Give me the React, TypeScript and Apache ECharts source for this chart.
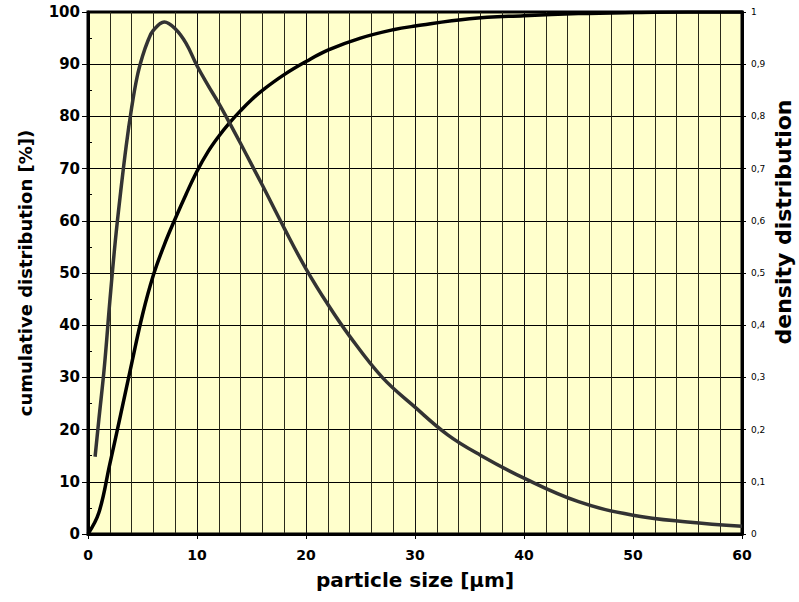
import React, { useEffect, useRef } from "react";
import * as echarts from "echarts";

// particle size [µm] and cumulative distribution [%]
const cumX = [0, 1, 2, 3, 4, 5, 6, 7, 8, 9, 10, 11, 12, 13, 14, 15, 16, 18, 20, 22, 25, 28, 30, 35, 40, 45, 50, 55, 60];
const cumY = [0, 4.1, 13.4, 22.9, 32.6, 42, 49.6, 55.4, 60.4, 65.1, 69.5, 73.2, 76.2, 78.8, 81.1, 83.2, 85, 88, 90.5, 92.7, 95, 96.6, 97.3, 98.7, 99.3, 99.7, 99.9, 100, 100];

// particle size [µm] and density distribution
const denX = [0.65, 1, 1.5, 2, 2.5, 3, 3.5, 4, 4.5, 5, 5.5, 6, 7, 8, 9, 10, 11, 12, 13, 14, 15, 16, 18, 20, 22, 24, 27, 30, 33, 36, 40, 45, 50, 55, 60];
const denY = [0.148, 0.22, 0.32, 0.445, 0.56, 0.656, 0.743, 0.816, 0.875, 0.915, 0.945, 0.965, 0.981, 0.968, 0.94, 0.897, 0.86, 0.825, 0.787, 0.748, 0.708, 0.668, 0.586, 0.508, 0.44, 0.379, 0.3, 0.243, 0.19, 0.151, 0.107, 0.062, 0.036, 0.023, 0.015];

const xTitle = "particle size [µm]";
const yLeftTitle = "cumulative distribution [%])";
const yRightTitle = "density distribution";

const FONT = "DejaVu Sans";

export default function App() {
  const ref = useRef<HTMLDivElement>(null);
  useEffect(() => {
    if (!ref.current) return;
    const chart = echarts.init(ref.current, null, { renderer: "svg" });
    const cumData = cumX.map((x, i) => [x, cumY[i]]);
    const denData = denX.map((x, i) => [x, denY[i]]);
    chart.setOption({
      animation: false,
      backgroundColor: "#ffffff",
      grid: {
        left: 88,
        top: 12,
        right: 57,
        bottom: 68,
        show: true,
        backgroundColor: "#FFFFCC",
        borderColor: "#000",
        borderWidth: 3,
      },
      xAxis: {
        type: "value",
        min: 0,
        max: 60,
        interval: 10,
        axisLine: { show: true, onZero: false, lineStyle: { color: "#000", width: 3 } },
        axisTick: { show: true, length: 5, lineStyle: { color: "#000", width: 1 } },
        axisLabel: { color: "#000", fontFamily: FONT, fontWeight: "bold", fontSize: 14, margin: 14 },
        splitLine: { show: true, lineStyle: { color: "#111", width: 1 } },
        minorTick: { show: false, splitNumber: 5 },
        minorSplitLine: { show: true, lineStyle: { color: "#2a2a1a", width: 1 } },
      },
      yAxis: [
        {
          type: "value",
          position: "left",
          min: 0,
          max: 100,
          interval: 10,
          axisLine: { show: true, lineStyle: { color: "#000", width: 3 } },
          axisTick: { show: true, length: 6, lineStyle: { color: "#000", width: 1 } },
          axisLabel: { color: "#000", fontFamily: FONT, fontWeight: "bold", fontSize: 15, margin: 8 },
          splitLine: { show: true, lineStyle: { color: "#000", width: 1 } },
        },
        {
          type: "value",
          position: "right",
          min: 0,
          max: 1,
          interval: 0.1,
          axisLine: { show: true, lineStyle: { color: "#000", width: 3 } },
          axisTick: { show: true, length: 4, lineStyle: { color: "#000", width: 1 } },
          axisLabel: {
            color: "#000",
            fontFamily: FONT,
            fontSize: 9,
            margin: 9,
            formatter: (v: number) => String(+v.toFixed(1)).replace(".", ","),
          },
          splitLine: { show: false },
        },
        {
          type: "value",
          position: "left",
          min: 0,
          max: 100,
          interval: 5,
          axisLine: { show: false },
          axisTick: { show: true, inside: true, length: 4, lineStyle: { color: "#000", width: 1 } },
          axisLabel: { show: false },
          splitLine: { show: false },
        },
      ],
      graphic: [
        {
          type: "text",
          x: 415,
          y: 580,
          style: {
            text: xTitle,
            fill: "#000",
            font: `bold 20px '${FONT}'`,
            align: "center",
            verticalAlign: "middle",
          },
        },
        {
          type: "text",
          x: 25,
          y: 273,
          rotation: Math.PI / 2,
          style: {
            text: yLeftTitle,
            fill: "#000",
            font: `bold 18px '${FONT}'`,
            align: "center",
            verticalAlign: "middle",
          },
        },
        {
          type: "text",
          x: 783,
          y: 222,
          rotation: Math.PI / 2,
          style: {
            text: yRightTitle,
            fill: "#000",
            font: `bold 22px '${FONT}'`,
            align: "center",
            verticalAlign: "middle",
          },
        },
      ],
      series: [
        {
          name: "cumulative",
          type: "line",
          yAxisIndex: 0,
          data: cumData,
          showSymbol: false,
          smooth: 0.4,
          lineStyle: { color: "#000", width: 3.5 },
          z: 3,
        },
        {
          name: "density",
          type: "line",
          yAxisIndex: 1,
          data: denData,
          showSymbol: false,
          smooth: 0.4,
          lineStyle: { color: "#333333", width: 3.5, cap: "butt" },
          z: 4,
        },
      ],
    });
    return () => chart.dispose();
  }, []);
  return (
    <div
      ref={ref}
      style={{ position: "fixed", left: 0, top: 0, width: 799, height: 602 }}
    />
  );
}
